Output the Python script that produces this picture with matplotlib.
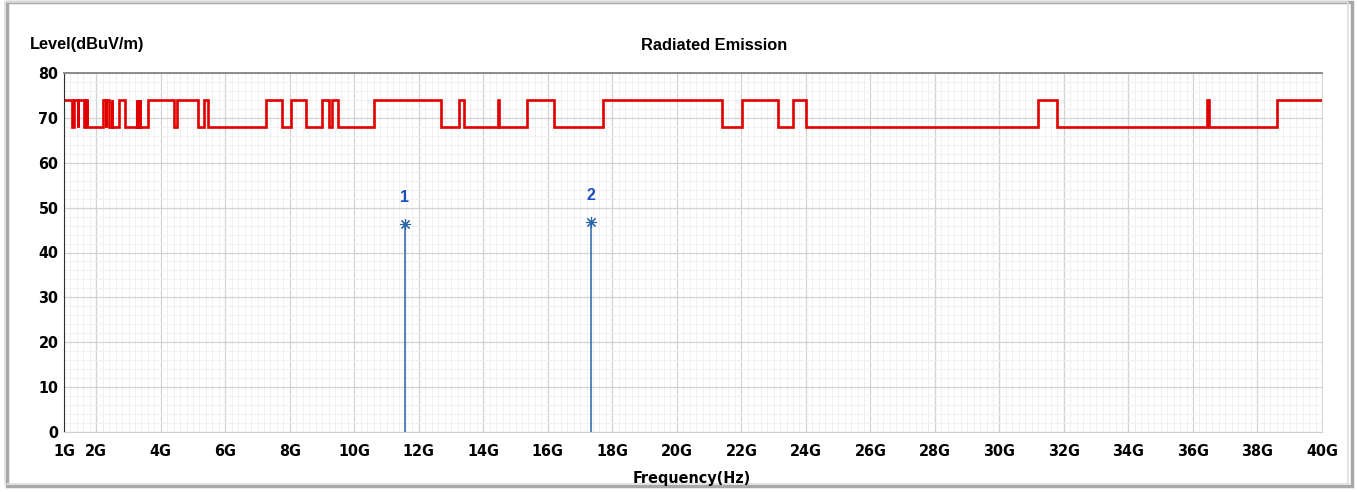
import matplotlib
matplotlib.use('Agg')
import matplotlib.pyplot as plt
from matplotlib.ticker import MultipleLocator
from matplotlib.patches import Rectangle
from matplotlib import font_manager
import numpy as np

# restricted bands (GHz) -> 74 dBuV/m inside, 68 outside
band_start = [1.0, 1.3, 1.435, 1.645, 1.66, 1.7188, 2.2, 2.31, 2.4835, 2.69,
              3.26, 3.332, 3.3458, 3.6, 4.5, 5.35, 7.25, 8.025, 9.0, 9.3,
              10.6, 13.25, 14.47, 15.35, 17.7, 22.01, 23.6, 31.2, 36.43, 38.6]
band_stop = [1.24, 1.427, 1.6265, 1.6465, 1.71, 1.7222, 2.3, 2.39, 2.5, 2.9,
             3.267, 3.339, 3.358, 4.4, 5.15, 5.46, 7.75, 8.5, 9.2, 9.5,
             12.7, 13.4, 14.5, 16.2, 21.4, 23.12, 24.0, 31.8, 36.5, 40.0]
limit_high = 74
limit_low = 68

# measured peaks
marker_freq = [11.57, 17.33]
marker_level = [46.4, 46.9]
marker_label = ['1', '2']

xtick_vals = [1, 2, 4, 6, 8, 10, 12, 14, 16, 18, 20, 22, 24, 26, 28, 30, 32, 34, 36, 38, 40]
xtick_text = [f'{v}G' for v in xtick_vals]
ytick_vals = [0, 10, 20, 30, 40, 50, 60, 70, 80]

# build the stepped limit line
lx, ly = [], []
prev = 1.0
for s, e in zip(band_start, band_stop):
    if s > prev:
        lx += [prev, s]
        ly += [limit_low, limit_low]
    lx += [s, e]
    ly += [limit_high, limit_high]
    prev = e
if prev < 40:
    lx += [prev, 40]
    ly += [limit_low, limit_low]

# pick a narrow bold face if one is around
names = {f.name for f in font_manager.fontManager.ttflist}
if 'Liberation Sans Narrow' in names:
    narrow = dict(family='Liberation Sans Narrow')
else:
    narrow = dict(family='DejaVu Sans', stretch='condensed')
plain = ['Liberation Sans', 'DejaVu Sans']

fig = plt.figure(figsize=(13.57, 4.92), dpi=100)
fig.patch.set_facecolor('white')

# outer frame with a little shadow
fig.patches.append(Rectangle((7 / 1357, 6 / 492), 1345 / 1357, 484 / 492,
                             transform=fig.transFigure, fill=False,
                             edgecolor='#a8a8a8', linewidth=2.5, zorder=0))
fig.patches.append(Rectangle((5 / 1357, 8 / 492), 1343 / 1357, 482 / 492,
                             transform=fig.transFigure, fill=False,
                             edgecolor='#dedede', linewidth=1.2, zorder=0))

ax = fig.add_axes([64 / 1357, 60 / 492, 1258 / 1357, 359 / 492])
ax.set_xlim(1, 40)
ax.set_ylim(0, 80)

ax.xaxis.set_minor_locator(MultipleLocator(0.2))
ax.yaxis.set_minor_locator(MultipleLocator(2))
ax.set_xticks(xtick_vals)
ax.set_xticklabels(xtick_text)
ax.set_yticks(ytick_vals)
ax.set_yticklabels([str(v) for v in ytick_vals])
ax.grid(which='major', color='#d2d2d2', linewidth=0.9)
ax.grid(which='minor', color='#f0f0f0', linewidth=0.7)
ax.set_axisbelow(True)
ax.tick_params(which='both', length=0)
ax.tick_params(axis='x', pad=9)
ax.tick_params(axis='y', pad=4)
for lab in ax.get_xticklabels() + ax.get_yticklabels():
    lab.set(fontweight='bold', fontsize=11.5, **narrow)

ax.spines['left'].set_color('#303030')
ax.spines['top'].set_color('#8c8c8c')
ax.spines['top'].set_linewidth(1.4)
ax.spines['right'].set_color('#d8d8d8')
ax.spines['bottom'].set_color('#d0d0d0')

# limit line
ax.plot(lx, ly, color='#e00000', linewidth=1.9, solid_joinstyle='miter')

# peak markers
for f, lv, t in zip(marker_freq, marker_level, marker_label):
    ax.vlines(f, 0, lv, color='#2a64a8', linewidth=1.1)
    ax.plot(f, lv, marker=(8, 2, 0), markersize=8, color='#2a64a8', markeredgewidth=0.8)
    ax.text(f, lv + 4.2, t, color='#1b4fc0', fontsize=11.5, fontweight='bold',
            ha='center', va='bottom', family=plain)

fig.text(30 / 1357, 1 - 45 / 492, 'Level(dBuV/m)', fontsize=11.8, fontweight='bold',
         ha='left', va='center', family=plain)
fig.text(714 / 1357, 1 - 46 / 492, 'Radiated Emission', fontsize=11.8, fontweight='bold',
         ha='center', va='center', family=plain)
fig.text(692 / 1357, 1 - 478 / 492, 'Frequency(Hz)', fontsize=11.5, fontweight='bold',
         ha='center', va='center', **narrow)

fig.savefig('out.png', dpi=100, facecolor='white')
